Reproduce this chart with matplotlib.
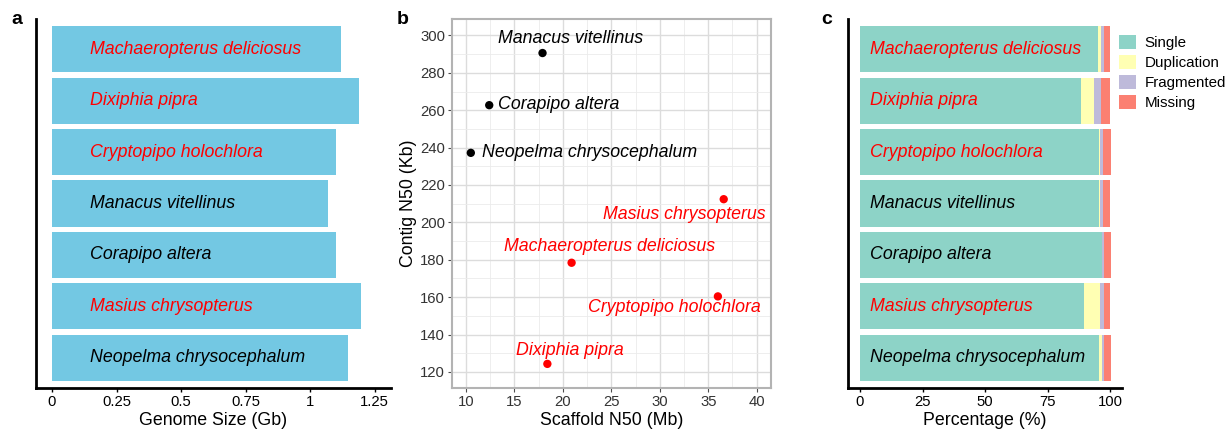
import matplotlib.pyplot as plt
from matplotlib.patches import Patch
from matplotlib.ticker import MultipleLocator

plt.rcParams["font.family"] = ["Liberation Sans", "DejaVu Sans"]

# data
species = ["Machaeropterus deliciosus", "Dixiphia pipra", "Cryptopipo holochlora",
           "Manacus vitellinus", "Corapipo altera", "Masius chrysopterus",
           "Neopelma chrysocephalum"]
highlight = [True, True, True, False, False, True, False]
genome_size = [1.12, 1.19, 1.10, 1.07, 1.10, 1.195, 1.147]

scaffold_n50 = [20.9, 18.4, 36.0, 17.9, 12.4, 36.6, 10.5]
contig_n50 = [178.4, 124.3, 160.4, 290.6, 262.7, 212.4, 237.2]

busco_single = [95.3, 88.4, 95.6, 95.6, 96.7, 89.6, 95.6]
busco_dup = [1.1, 5.2, 0.3, 0.3, 0.1, 6.4, 1.2]
busco_frag = [1.2, 2.8, 1.3, 1.3, 0.7, 1.6, 0.7]
busco_missing = [2.4, 3.6, 3.2, 2.8, 3.0, 2.4, 2.9]

busco_labels = ["Single", "Duplication", "Fragmented", "Missing"]
busco_colors = ["#8DD3C7", "#FFFFB3", "#BEBADA", "#FB8072"]

fs_txt = 12.8
fs_tick = 10.7

fig = plt.figure(figsize=(12.29, 4.29), dpi=100)
bottom, top = 0.0956, 0.9557
ax_a = fig.add_axes([0.0293, bottom, 0.318 - 0.0293, top - bottom])
ax_b = fig.add_axes([0.3678, bottom, 0.6271 - 0.3678, top - bottom])
ax_c = fig.add_axes([0.690, bottom, 0.913 - 0.690, top - bottom])

ypos = list(range(len(species)))[::-1]
name_colors = ["#FF0000" if h else "black" for h in highlight]

# panel a
ax_a.barh(ypos, genome_size, height=0.9, color="#73C8E3")
for y, name, c in zip(ypos, species, name_colors):
    ax_a.text(0.146, y, name, color=c, style="italic", fontsize=fs_txt, va="center", ha="left")
ax_a.set_xlim(-0.062, 1.312)
ax_a.set_ylim(-0.59, 6.59)
ax_a.set_xticks([0, 0.25, 0.5, 0.75, 1, 1.25])
ax_a.set_xticklabels(["0", "0.25", "0.5", "0.75", "1", "1.25"])
ax_a.set_yticks([])
ax_a.set_xlabel("Genome Size (Gb)", fontsize=fs_txt, labelpad=2)
for s in ["top", "right"]:
    ax_a.spines[s].set_visible(False)
for s in ["left", "bottom"]:
    ax_a.spines[s].set_linewidth(2)
ax_a.tick_params(axis="x", labelsize=fs_tick, length=3, width=1, pad=2)

# panel b
offsets = {
    "Machaeropterus deliciosus": ((27.4, 12), "center"),
    "Dixiphia pipra": ((16, 9.9), "center"),
    "Cryptopipo holochlora": ((31.2, -8.2), "right"),
    "Manacus vitellinus": ((-31.7, 10.3), "left"),
    "Corapipo altera": ((6.5, 0.7), "left"),
    "Masius chrysopterus": ((30, -11.3), "right"),
    "Neopelma chrysocephalum": ((8.2, 0.5), "left"),
}
ax_b.scatter(scaffold_n50, contig_n50, s=36, c=name_colors, zorder=3, linewidths=0)
for x, y, name, c in zip(scaffold_n50, contig_n50, species, name_colors):
    off, ha = offsets[name]
    ax_b.annotate(name, (x, y), xytext=off, textcoords="offset points",
                  ha=ha, va="center", color=c, style="italic", fontsize=fs_txt)
ax_b.set_xlim(8.56, 41.45)
ax_b.set_ylim(111.4, 308.8)
ax_b.xaxis.set_major_locator(MultipleLocator(5))
ax_b.xaxis.set_minor_locator(MultipleLocator(2.5))
ax_b.yaxis.set_major_locator(MultipleLocator(20))
ax_b.yaxis.set_minor_locator(MultipleLocator(10))
ax_b.grid(which="major", color="#DCDCDC", linewidth=1.0)
ax_b.grid(which="minor", color="#EBEBEB", linewidth=0.6)
ax_b.set_axisbelow(True)
for s in ax_b.spines.values():
    s.set_color("#B3B3B3")
    s.set_linewidth(1.5)
ax_b.tick_params(which="major", labelsize=fs_tick, color="#4D4D4D", labelcolor="#333333", length=3, pad=2)
ax_b.tick_params(which="minor", length=0)
ax_b.set_xlabel("Scaffold N50 (Mb)", fontsize=fs_txt, labelpad=2)
ax_b.set_ylabel("Contig N50 (Kb)", fontsize=fs_txt, labelpad=2)

# panel c
left = [0.0] * len(species)
for vals, col in zip([busco_single, busco_dup, busco_frag, busco_missing], busco_colors):
    ax_c.barh(ypos, vals, left=left, height=0.9, color=col)
    left = [l + v for l, v in zip(left, vals)]
for y, name, c in zip(ypos, species, name_colors):
    ax_c.text(4, y, name, color=c, style="italic", fontsize=fs_txt, va="center", ha="left")
ax_c.set_xlim(-4.8, 104.8)
ax_c.set_ylim(-0.59, 6.59)
ax_c.set_xticks([0, 25, 50, 75, 100])
ax_c.set_yticks([])
ax_c.set_xlabel("Percentage (%)", fontsize=fs_txt, labelpad=2)
for s in ["top", "right"]:
    ax_c.spines[s].set_visible(False)
for s in ["left", "bottom"]:
    ax_c.spines[s].set_linewidth(2)
ax_c.tick_params(axis="x", labelsize=fs_tick, length=3, width=1, pad=2)

handles = [Patch(facecolor=c, edgecolor="none", label=l) for l, c in zip(busco_labels, busco_colors)]
fig.legend(handles=handles, loc="upper left", bbox_to_anchor=(0.9055, 0.933), frameon=False,
           fontsize=10.9, handlelength=1.1, handleheight=1.1, handletextpad=0.6,
           labelspacing=0.3, borderaxespad=0)

# panel letters
fig.text(0.009, 0.955, "a", fontsize=14, fontweight="bold", va="center")
fig.text(0.323, 0.955, "b", fontsize=14, fontweight="bold", va="center")
fig.text(0.668, 0.955, "c", fontsize=14, fontweight="bold", va="center")

fig.savefig("out.png", dpi=100)
